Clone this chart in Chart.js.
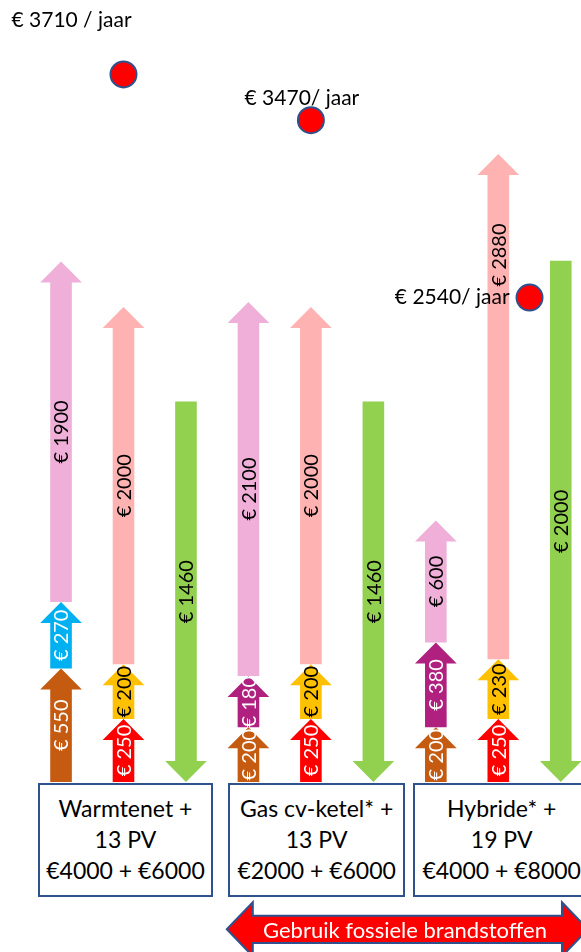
<!DOCTYPE html>
<html lang="nl">
<head>
<meta charset="utf-8">
<title>Warmtenet, gas cv-ketel en hybride: kosten per jaar</title>
<script src="https://cdn.jsdelivr.net/npm/chart.js@4.4.1/dist/chart.umd.min.js"></script>
<style>
  html, body { margin: 0; padding: 0; background: #fff; }
  #page {
    position: relative; width: 581px; height: 952px; overflow: hidden;
    background: #fff; font-family: Lato, "DejaVu Sans", sans-serif; color: #000;
  }
  #chart { position: absolute; left: 0; top: 0; }
  .box {
    position: absolute; top: 783px; height: 114px; box-sizing: border-box;
    border: 2px solid #2f528f; background: #fff; text-align: center;
    font-size: 23px; line-height: 31px; padding-top: 8px; white-space: nowrap;
  }
  #fossil { position: absolute; left: 0; top: 895px; }
</style>
</head>
<body>
<div id="page">
  <canvas id="chart" width="600" height="790"></canvas>
  <div id="boxes"></div>
  <svg id="fossil" width="600" height="60"></svg>
</div>

<script>
// ---------- data ----------
// 9 kolommen: per systeem twee kostenkolommen en één PV-kolom
const columnLabels = [
  "Warmtenet 1", "Warmtenet 2", "Warmtenet PV",
  "Gas cv-ketel 1", "Gas cv-ketel 2", "Gas cv-ketel PV",
  "Hybride 1", "Hybride 2", "Hybride PV",
];
const bottomCost = [550, 250, null, 200, 250, null, 200, 250, null];
const middleCost = [270, 200, null, 180, 200, null, 380, 230, null];
const topCost = [1900, 2000, null, 2100, 2000, null, 600, 2880, null];
const pvYield = [null, null, 1460, null, null, 1460, null, null, 2000];

const netValues = [3710, 3470, 2540];
const netColumn = [1, 4, 7.5];
const netLabels = ["€ 3710 / jaar", "€ 3470/ jaar", "€ 2540/ jaar"];

const boxLines = [
  ["Warmtenet +", "13 PV", "€4000 + €6000"],
  ["Gas cv-ketel* +", "13 PV", "€2000 + €6000"],
  ["Hybride* +", "19 PV", "€4000 + €8000"],
];
const fossilText = "Gebruik fossiele brandstoffen";

// ---------- styles ----------
const BROWN = "#c55a11", RED = "#ff0000", BLUE = "#00b0f0", YELLOW = "#ffc000";
const PURPLE = "#b0207f", PINK = "#efafd8", SALMON = "#ffb2b2", GREEN = "#92d050";
const BORDER = "#2f528f";

const bottomColors = [BROWN, RED, null, BROWN, RED, null, BROWN, RED, null];
const middleColors = [BLUE, YELLOW, null, PURPLE, YELLOW, null, PURPLE, YELLOW, null];
const topColors = [PINK, SALMON, null, PINK, SALMON, null, PINK, SALMON, null];
const DARK_FILLS = [BROWN, RED, BLUE, PURPLE];

const HEAD = 21;          // lengte pijlpunt (px)
const HEAD_RATIO = 1.93;  // breedte pijlpunt t.o.v. schacht
const LABEL_FONT = "20px Lato, 'DejaVu Sans', sans-serif";
const NET_FONT = "21px Lato, 'DejaVu Sans', sans-serif";
// positie label langs de pijl (0 = punt, 1 = staart)
const labelPos = { "2-7": 0.2 };
const netLabelOffset = [
  { dx: -52, dy: -54, align: "center" },
  { dx: -9, dy: -22, align: "center" },
  { dx: -20, dy: 0, align: "right" },
];
const boxLeft = [37.7, 228.3, 412.7];
const boxWidth = [175.6, 176.7, 178];

// ---------- helpers ----------
function drawArrow(ctx, x, yTail, yTip, w, color) {
  const dir = yTip < yTail ? -1 : 1;
  const headBase = yTip - dir * HEAD;
  const hw = (w * HEAD_RATIO) / 2;
  ctx.beginPath();
  ctx.moveTo(x - w / 2, yTail);
  ctx.lineTo(x - w / 2, headBase);
  ctx.lineTo(x - hw, headBase);
  ctx.lineTo(x, yTip);
  ctx.lineTo(x + hw, headBase);
  ctx.lineTo(x + w / 2, headBase);
  ctx.lineTo(x + w / 2, yTail);
  ctx.closePath();
  ctx.fillStyle = color;
  ctx.fill();
}

function drawUpLabel(ctx, text, x, y, color) {
  ctx.save();
  ctx.translate(x, y);
  ctx.rotate(-Math.PI / 2);
  ctx.font = LABEL_FONT;
  ctx.fillStyle = color;
  ctx.textAlign = "center";
  ctx.textBaseline = "middle";
  ctx.fillText(text, 0, 1);
  ctx.restore();
}

// bars worden als pijlen getekend; lengte van elke schacht volgt de y-schaal,
// de punt komt er bovenop en de volgende pijl start op die punt
const arrowPlugin = {
  id: "arrows",
  beforeDatasetDraw(chart, args) {
    if (chart.data.datasets[args.index].type !== "scatter") return false;
  },
  beforeDatasetsDraw(chart) {
    const ctx = chart.ctx;
    const y = chart.scales.y;
    const base = y.getPixelForValue(0);
    const labels = [];

    for (let i = 0; i < columnLabels.length; i++) {
      let cursor = base;
      [0, 1, 2].forEach((di) => {
        const ds = chart.data.datasets[di];
        const v = ds.data[i];
        if (v == null) return;
        const el = chart.getDatasetMeta(di).data[i];
        const len = base - y.getPixelForValue(v) + HEAD;
        const color = ds.arrowColors[i];
        drawArrow(ctx, el.x, cursor, cursor - len, el.width, color);
        const f = labelPos[`${di}-${i}`] ?? 0.5;
        labels.push({
          text: `€ ${v}`, x: el.x, y: cursor - len + len * f,
          color: DARK_FILLS.includes(color) ? "#fff" : "#000",
        });
        cursor -= len;
      });
    }

    const pvMeta = chart.getDatasetMeta(3);
    pvYield.forEach((v, i) => {
      if (v == null) return;
      const el = pvMeta.data[i];
      drawArrow(ctx, el.x, el.y, el.base, el.width, GREEN);
      labels.push({ text: `€ ${v}`, x: el.x, y: (el.y + el.base) / 2, color: "#000" });
    });

    labels.forEach((l) => drawUpLabel(ctx, l.text, l.x, l.y, l.color));
  },
  afterDatasetsDraw(chart) {
    const ctx = chart.ctx;
    const meta = chart.getDatasetMeta(4);
    ctx.save();
    ctx.font = NET_FONT;
    ctx.fillStyle = "#000";
    ctx.textBaseline = "middle";
    meta.data.forEach((pt, i) => {
      const o = netLabelOffset[i];
      ctx.textAlign = o.align;
      ctx.fillText(netLabels[i], pt.x + o.dx, pt.y + o.dy);
    });
    ctx.restore();
  },
};

// ---------- chart ----------
new Chart(document.getElementById("chart"), {
  type: "bar",
  data: {
    labels: columnLabels,
    datasets: [
      { label: "Kosten 1", data: bottomCost, yAxisID: "y", arrowColors: bottomColors },
      { label: "Kosten 2", data: middleCost, yAxisID: "y", arrowColors: middleColors },
      { label: "Kosten 3", data: topCost, yAxisID: "y", arrowColors: topColors },
      { label: "Opbrengst PV", data: pvYield, yAxisID: "yPv" },
      {
        type: "scatter",
        label: "Netto per jaar",
        data: netValues.map((v, i) => ({ x: netColumn[i], y: v })),
        xAxisID: "xNet",
        yAxisID: "yNet",
        pointRadius: 13,
        pointHoverRadius: 13,
        backgroundColor: RED,
        borderColor: BORDER,
        borderWidth: 2,
      },
    ],
  },
  options: {
    responsive: false,
    animation: false,
    devicePixelRatio: 1,
    layout: { autoPadding: false, padding: { left: 29.8, right: 8, top: 0, bottom: 8 } },
    datasets: { bar: { barPercentage: 0.346, categoryPercentage: 1, grouped: false } },
    plugins: { legend: { display: false }, tooltip: { enabled: false } },
    scales: {
      x: { display: false, stacked: true },
      xNet: { type: "linear", display: false, offset: false, min: -0.5, max: 8.5 },
      y: { display: false, stacked: true, min: 0, max: 4650 },
      yPv: { display: false, min: 0, max: 3000 },
      yNet: { display: false, min: 0, max: 4100 },
    },
  },
  plugins: [arrowPlugin],
});

// ---------- boxes + fossil arrow ----------
const boxesEl = document.getElementById("boxes");
boxLines.forEach((lines, i) => {
  const d = document.createElement("div");
  d.className = "box";
  d.style.left = boxLeft[i] + "px";
  d.style.width = boxWidth[i] + "px";
  d.innerHTML = lines.map((l) => `<div>${l}</div>`).join("");
  boxesEl.appendChild(d);
});

const svg = document.getElementById("fossil");
// dubbele pijl, y relatief aan top 895
const pts = [
  [226.8, 34.3], [252.8, 7.3], [252.8, 20.7], [562, 20.7], [562, 7.3], [588, 34.3],
  [562, 61.3], [562, 47.9], [252.8, 47.9], [252.8, 61.3],
].map((p) => p.join(",")).join(" ");
svg.innerHTML =
  `<polygon points="${pts}" fill="${RED}" stroke="${BORDER}" stroke-width="2"/>` +
  `<text x="405" y="34.3" fill="#fff" font-family="Lato, 'DejaVu Sans', sans-serif" ` +
  `font-size="22" text-anchor="middle" dominant-baseline="central">${fossilText}</text>`;
</script>
</body>
</html>
